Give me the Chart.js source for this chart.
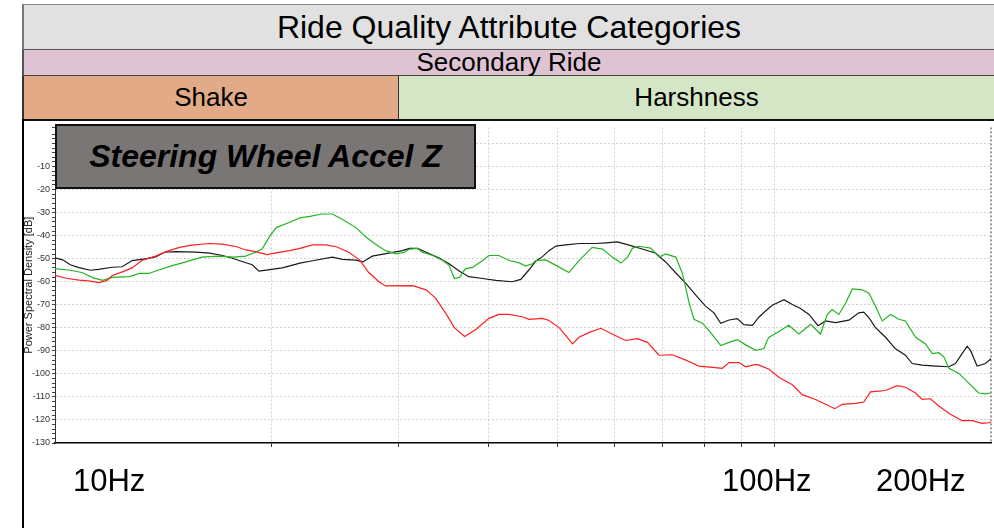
<!DOCTYPE html>
<html>
<head>
<meta charset="utf-8">
<script src="https://cdn.jsdelivr.net/npm/chart.js@4.4.1/dist/chart.umd.min.js"></script>
<style>
    body { margin: 0; background: #fff; font-family: "Liberation Sans", Arial, sans-serif; }
    #page { position: relative; width: 994px; height: 528px; overflow: hidden; background: #fff; }
    .band { position: absolute; box-sizing: border-box; display: flex; align-items: center; justify-content: center; white-space: nowrap; color: #000; }
    #bandTop { left: 22px; top: 4px; width: 972px; height: 47px; background: #e1e1e1; border-top: 1px solid #8a8a8a; border-left: 2px solid #777; border-bottom: 2px solid #555; font-size: 32px; }
    #bandMid { left: 22px; top: 50px; width: 972px; height: 27px; background: #dec4d3; border-left: 2px solid #555; border-bottom: 2px solid #444; font-size: 26px; }
    #bandShake { left: 22px; top: 76px; width: 378px; height: 45px; background: #e2aa86; border-left: 2px solid #333; border-right: 2px solid #333; border-bottom: 2px solid #111; font-size: 26px; }
    #bandHarsh { left: 399px; top: 76px; width: 595px; height: 45px; background: #d4e6c6; border-bottom: 2px solid #111; font-size: 26px; }
    #frameLeft { position: absolute; left: 22px; top: 119px; width: 2px; height: 409px; background: #000; }
    #chartBox { position: absolute; left: 0; top: 120px; width: 994px; height: 408px; }
    #legendBox { position: absolute; left: 55px; top: 124px; width: 421px; height: 65px; box-sizing: border-box; background: #7a7676; border: 2px solid #111; display: flex; align-items: center; justify-content: center; font-weight: bold; font-style: italic; font-size: 32px; color: #000; white-space: nowrap; }
    .hz { position: absolute; top: 465px; font-size: 31px; line-height: 31px; color: #000; }
</style>
</head>
<body>
<div id="page">
    <div class="band" id="bandTop">Ride Quality Attribute Categories</div>
    <div class="band" id="bandMid">Secondary Ride</div>
    <div class="band" id="bandShake">Shake</div>
    <div class="band" id="bandHarsh">Harshness</div>
    <div id="chartBox"><canvas id="psdChart" width="994" height="408"></canvas></div>
    <div id="frameLeft"></div>
    <div id="legendBox">Steering Wheel Accel Z</div>
    <div class="hz" style="left:73px">10Hz</div>
    <div class="hz" style="left:722px">100Hz</div>
    <div class="hz" style="left:876px">200Hz</div>
</div>

<script>
// ================= DATA =================

const xGridFreqs = [10, 20, 30, 40, 50, 60, 70, 80, 90, 100, 200];

const blackFreq = [10.0, 10.25, 10.5, 10.8, 11.2, 11.5, 12.0, 12.4, 12.8, 13.4, 13.8, 14.2, 14.7, 15.7, 16.4, 17.1, 17.6, 18.2, 18.8, 19.2,
    19.9, 20.7, 21.9, 22.8, 24.3, 25.1, 26.2, 26.8, 27.6, 29.1, 30.4, 31.1, 31.9, 32.8, 34.2, 35.3, 36.5, 37.6, 39.3, 41.0,
    43.2, 44.4, 45.6, 46.6, 47.6, 48.6, 49.7, 51.3, 53.5, 56.5, 58.3, 60.5, 62.8, 65.5, 68.4, 70.6, 72.9, 75.3, 77.7, 80.2,
    82.4, 84.2, 86.5, 88.8, 90.7, 93.2, 95.2, 97.2, 99.3, 103.1, 105.9, 108.7, 111.7, 115.0, 117.8, 121.6, 126.9, 131.0, 133.1, 135.3,
    138.2, 142.7, 147.3, 152.1, 155.4, 160.4, 167.5, 174.8, 178.5, 182.3, 185.3, 187.3, 191.3, 196.5, 200];
const blackDb = [-49.6, -50.5, -52.6, -53.9, -55.0, -54.6, -53.7, -53.5, -50.8, -50.0, -49.2, -47.2, -46.9, -47.1, -47.6, -48.6, -49.7, -51.2, -52.6, -55.4,
    -54.7, -54.0, -51.9, -50.9, -49.3, -50.3, -50.6, -51.4, -48.9, -47.6, -46.5, -45.5, -45.5, -47.2, -49.7, -52.2, -55.4, -57.8, -58.6, -59.4,
    -60.0, -59.0, -54.8, -51.0, -49.1, -46.5, -44.5, -44.0, -43.4, -43.4, -43.1, -42.7, -44.1, -45.8, -47.6, -51.4, -56.1, -60.7, -65.7, -70.6,
    -73.5, -78.0, -76.6, -76.0, -78.6, -78.9, -75.3, -72.7, -70.2, -67.8, -69.9, -71.6, -74.2, -79.1, -77.0, -77.7, -76.7, -73.5, -73.2, -75.6,
    -79.9, -84.1, -89.1, -91.9, -95.5, -96.2, -96.6, -96.9, -95.5, -91.2, -88.0, -89.8, -96.6, -95.5, -93.4];

const redFreq = [10.0, 10.4, 10.8, 11.2, 11.5, 11.8, 12.0, 12.4, 12.8, 13.2, 13.8, 14.3, 14.9, 15.5, 16.4, 17.1, 17.9, 18.4, 19.0, 19.7,
    20.3, 21.2, 21.9, 22.8, 23.8, 24.6, 25.6, 26.5, 27.3, 28.2, 28.8, 31.4, 32.8, 33.8, 34.9, 35.9, 37.1, 38.5, 40.1, 41.4,
    42.8, 44.6, 45.6, 47.6, 48.6, 50.2, 51.3, 52.4, 53.5, 55.3, 57.4, 59.5, 62.1, 64.5, 66.6, 69.1, 72.1, 75.3, 78.5, 82.0,
    84.6, 86.5, 89.3, 91.2, 94.2, 95.2, 98.3, 101.5, 105.9, 109.3, 114.1, 117.8, 121.3, 124.2, 129.7, 133.1, 136.0, 142.7, 148.1, 152.1,
    157.1, 160.4, 164.8, 169.2, 175.7, 182.3, 188.3, 194.4, 200];
const redDb = [-57.2, -58.6, -59.3, -59.7, -60.4, -59.5, -57.4, -55.7, -54.0, -50.8, -48.9, -46.8, -45.1, -44.1, -43.4, -43.7, -44.8, -46.2, -46.9, -48.2,
    -47.5, -46.5, -45.5, -44.0, -44.0, -44.8, -47.2, -50.5, -56.0, -60.0, -61.8, -61.7, -63.5, -67.1, -73.5, -79.9, -83.8, -80.6, -75.9, -74.2,
    -74.2, -75.2, -76.3, -75.9, -76.8, -79.9, -83.4, -87.0, -84.1, -82.0, -80.2, -82.7, -85.5, -84.7, -86.3, -91.9, -91.7, -94.0, -96.6, -97.2,
    -97.6, -95.1, -95.1, -96.9, -95.9, -96.2, -98.0, -101.6, -104.7, -109.0, -111.1, -113.2, -115.1, -113.2, -112.8, -112.2, -107.8, -107.2, -105.1, -105.8,
    -108.3, -111.1, -110.8, -113.9, -117.5, -120.3, -120.3, -121.5, -121.1];

const greenFreq = [10.0, 10.5, 10.9, 11.3, 11.65, 12.0, 12.7, 13.1, 13.5, 14.0, 14.6, 15.2, 16.0, 16.9, 17.7, 18.4, 19.0, 19.4, 19.9, 20.3,
    21.2, 21.9, 22.6, 23.5, 24.3, 25.1, 26.2, 27.1, 27.9, 28.8, 29.8, 30.6, 31.1, 31.9, 32.4, 33.5, 34.6, 35.3, 35.9, 36.5,
    37.2, 38.0, 39.3, 40.1, 41.4, 42.8, 44.2, 45.1, 46.1, 46.6, 48.1, 49.7, 51.8, 53.5, 55.8, 57.7, 59.5, 61.2, 62.5, 63.5,
    64.8, 67.3, 69.1, 70.6, 72.9, 74.5, 76.1, 77.3, 79.4, 81.5, 84.2, 86.5, 88.8, 91.2, 94.2, 96.7, 97.7, 98.3, 100.9, 104.7,
    108.1, 112.3, 115.9, 118.4, 120.3, 122.9, 125.6, 128.3, 132.4, 135.3, 138.2, 141.2, 145.0, 148.9, 152.1, 157.1, 162.2, 165.7, 169.2, 172.0,
    174.8, 180.4, 186.3, 192.3, 196.5, 200];
const greenDb = [-54.3, -55.0, -56.0, -58.3, -59.4, -58.1, -57.8, -56.4, -56.4, -54.7, -52.9, -51.4, -49.3, -48.9, -49.3, -48.9, -47.2, -45.8, -40.1, -36.5,
    -34.2, -32.3, -31.6, -30.6, -30.6, -33.0, -36.5, -40.8, -43.7, -46.5, -47.9, -47.2, -45.8, -45.5, -47.2, -48.6, -50.8, -52.9, -58.6, -58.1,
    -54.3, -53.9, -50.8, -48.6, -48.6, -50.8, -51.8, -53.2, -52.2, -50.8, -50.5, -52.9, -56.0, -50.8, -45.1, -45.8, -49.3, -51.9, -49.3, -45.4,
    -44.6, -45.4, -49.3, -47.9, -49.3, -56.4, -69.2, -76.3, -78.0, -82.0, -87.7, -86.3, -85.1, -87.4, -89.8, -89.0, -85.5, -84.1, -82.0, -78.9,
    -82.7, -78.5, -82.7, -74.2, -72.1, -74.2, -69.2, -63.1, -63.5, -65.0, -70.6, -77.0, -74.2, -76.3, -77.0, -84.1, -87.0, -91.2, -90.8, -92.6,
    -97.6, -99.8, -104.0, -108.3, -108.7, -108.3];

function toPoints(freqs, values) {
    return freqs.map((f, i) => ({ x: f, y: values[i] }));
}

// ================= PSD CHART =================

const psdChart = new Chart(document.getElementById("psdChart"), {
    type: "line",

    data: {
        datasets: [
            {
                label: "Red",
                data: toPoints(redFreq, redDb),
                borderColor: "#ff1f1f",
                borderWidth: 1.2,
                pointRadius: 0,
                tension: 0
            },
            {
                label: "Green",
                data: toPoints(greenFreq, greenDb),
                borderColor: "#22b522",
                borderWidth: 1.2,
                pointRadius: 0,
                tension: 0
            },
            {
                label: "Black",
                data: toPoints(blackFreq, blackDb),
                borderColor: "#1a1a1a",
                borderWidth: 1.2,
                pointRadius: 0,
                tension: 0
            }
        ]
    },

    options: {
        responsive: false,
        animation: false,
        events: [],

        layout: {
            padding: { left: 22, top: 1, right: 3, bottom: 85 }
        },

        plugins: {
            legend: { display: false },
            tooltip: { enabled: false }
        },

        scales: {
            x: {
                type: "logarithmic",
                min: 10,
                max: 200,
                afterBuildTicks: (scale) => {
                    scale.ticks = xGridFreqs.map(v => ({ value: v }));
                },
                afterFit: (scale) => { scale.height = 0; },
                ticks: { display: false, autoSkip: false },
                grid: {
                    color: (ctx) => {
                        const v = ctx.tick && ctx.tick.value;
                        if (v === 10) return "rgba(0,0,0,0)";
                        if (v === 200) return "#9a9a9a";
                        return "#d2d2d2";
                    },
                    lineWidth: (ctx) => (ctx.tick && ctx.tick.value === 200 ? 2 : 1),
                    tickColor: (ctx) => {
                        const v = ctx.tick && ctx.tick.value;
                        return (v === 10 || v === 200) ? "rgba(0,0,0,0)" : "#333";
                    },
                    tickLength: 4
                },
                border: { color: "#000", width: 1.5, dash: [2, 2] }
            },

            y: {
                min: -130,
                max: 7,
                afterFit: (scale) => { scale.width = 33; },
                ticks: {
                    stepSize: 2,
                    autoSkip: false,
                    padding: 2,
                    color: "#333",
                    font: { family: "Liberation Sans", size: 9 },
                    callback: (v) => (v % 10 === 0 && v < 0 ? String(v) : "")
                },
                grid: {
                    color: (ctx) => {
                        const v = ctx.tick && ctx.tick.value;
                        return (v % 10 === 0 && v > -130) ? "#d2d2d2" : "rgba(0,0,0,0)";
                    },
                    tickColor: "#444",
                    tickLength: 3
                },
                border: { color: "#333", width: 1, dash: [2, 2] },
                title: {
                    display: true,
                    text: "Power Spectral Density [dB]",
                    color: "#222",
                    font: { family: "Liberation Sans", size: 11 },
                    padding: { top: 0, bottom: 0 }
                }
            }
        }
    }
});
</script>
</body>
</html>
